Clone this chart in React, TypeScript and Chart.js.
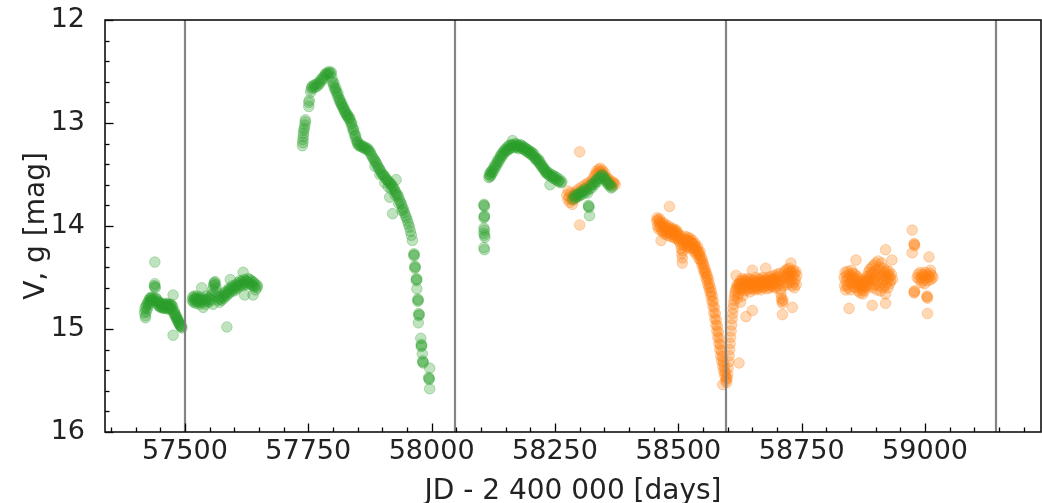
import React, { useEffect, useRef } from 'react';
import { Chart, registerables } from 'chart.js';

Chart.register(...registerables);

// ---- V band (green): [JD - 2400000, mag] ----
const vSeason1: [number, number][] = [
  [57418,14.84],[57419,14.80],[57420,14.87],[57420,14.89],[57421,14.78],[57422,14.83],[57423,14.76],[57424,14.80],[57425,14.74],
  [57426,14.77],[57427,14.72],[57428,14.75],[57429,14.70],[57430,14.73],[57431,14.70],[57432,14.72],[57433,14.69],
  [57434,14.72],[57436,14.70],[57438,14.58],[57439,14.59],[57439,14.56],[57440,14.60],[57439,14.35],[57441,14.70],
  [57442,14.73],[57443,14.71],[57444,14.75],[57445,14.73],[57446,14.77],[57447,14.74],[57448,14.78],[57449,14.75],
  [57450,14.79],[57451,14.76],[57452,14.78],[57453,14.75],[57454,14.79],[57455,14.77],[57456,14.80],[57457,14.76],
  [57458,14.79],[57459,14.77],[57460,14.80],[57461,14.76],[57462,14.79],[57463,14.75],[57464,14.78],[57465,14.76],
  [57466,14.80],[57467,14.77],[57468,14.81],[57469,14.76],[57470,14.79],[57471,14.76],[57472,14.80],[57473,14.77],
  [57474,14.81],[57475,14.78],[57476,14.67],[57476,15.06],[57477,14.84],[57478,14.82],[57479,14.86],[57480,14.85],
  [57481,14.88],[57482,14.87],[57483,14.90],[57484,14.89],[57485,14.92],[57486,14.91],[57487,14.94],[57488,14.93],
  [57489,14.96],[57490,14.95],[57491,14.97],[57492,14.98],[57493,14.97],[57494,14.99],
];

const vSeason2: [number, number][] = [
  [57515,14.72],[57516,14.69],[57517,14.74],[57518,14.71],[57519,14.68],[57520,14.73],[57521,14.70],[57522,14.75],
  [57523,14.71],[57524,14.68],[57525,14.73],[57526,14.70],[57527,14.74],[57528,14.71],[57529,14.76],[57530,14.72],
  [57531,14.69],[57532,14.74],[57533,14.71],[57534,14.60],[57535,14.72],[57537,14.79],[57538,14.74],[57540,14.71],
  [57541,14.76],[57543,14.72],[57544,14.68],[57546,14.73],[57547,14.70],[57549,14.74],[57550,14.71],[57552,14.68],
  [57553,14.72],[57555,14.66],[57556,14.62],[57557,14.76],[57558,14.58],[57559,14.56],[57560,14.55],[57561,14.54],
  [57562,14.57],[57563,14.60],[57564,14.64],[57566,14.68],[57567,14.72],[57569,14.70],[57570,14.74],[57572,14.71],
  [57573,14.68],[57575,14.72],[57576,14.69],[57578,14.66],[57579,14.70],[57581,14.67],[57582,14.64],[57584,14.68],
  [57585,14.98],[57585,14.65],[57587,14.62],[57588,14.66],[57590,14.63],[57591,14.60],[57592,14.52],[57593,14.64],
  [57594,14.61],[57596,14.58],[57597,14.62],[57599,14.59],[57600,14.63],[57602,14.60],[57603,14.57],[57605,14.61],
  [57606,14.58],[57608,14.55],[57609,14.59],[57611,14.56],[57612,14.53],[57614,14.57],[57615,14.54],[57617,14.58],
  [57618,14.45],[57619,14.55],[57620,14.52],[57621,14.67],[57622,14.56],[57623,14.53],[57625,14.57],[57626,14.54],
  [57628,14.51],[57629,14.55],[57631,14.52],[57632,14.56],[57634,14.53],[57635,14.57],[57637,14.54],[57638,14.67],
  [57638,14.58],[57640,14.55],[57641,14.59],[57643,14.62],[57644,14.57],[57646,14.60],[57647,14.58],
];

const vSeason3: [number, number][] = [
  [57738,13.22],[57739,13.19],[57739,13.16],[57740,13.13],[57740,13.10],[57741,13.07],[57742,13.05],[57743,13.02],
  [57744,12.99],[57744,12.97],[57751,12.84],[57751,12.80],[57752,12.78],[57755,12.70],[57756,12.67],[57757,12.65],
  [57759,12.64],[57761,12.66],[57763,12.63],[57765,12.65],[57767,12.62],[57769,12.64],[57771,12.61],[57773,12.62],
  [57775,12.58],[57777,12.59],[57779,12.56],[57781,12.57],[57783,12.54],[57785,12.52],[57787,12.53],[57789,12.51],
  [57791,12.52],[57793,12.50],[57795,12.52],[57797,12.51],[57798,12.56],[57799,12.60],[57801,12.63],[57802,12.61],
  [57803,12.66],[57805,12.68],[57806,12.66],[57807,12.70],[57809,12.73],[57810,12.71],[57811,12.75],[57813,12.78],
  [57814,12.77],[57815,12.80],[57817,12.82],[57818,12.81],[57819,12.84],[57821,12.86],[57822,12.85],[57823,12.88],
  [57825,12.90],[57826,12.89],[57827,12.92],[57829,12.93],[57830,12.92],[57831,12.95],[57833,12.96],[57834,12.95],
  [57835,12.98],[57837,13.01],[57838,13.00],[57839,13.04],[57841,13.07],[57842,13.06],[57843,13.10],[57845,13.13],
  [57846,13.12],[57847,13.16],[57849,13.19],[57850,13.18],[57851,13.21],[57853,13.22],[57855,13.21],[57857,13.23],
  [57859,13.22],[57861,13.24],[57863,13.23],[57865,13.25],[57867,13.24],[57869,13.26],[57871,13.25],[57873,13.27],
  [57875,13.28],[57877,13.30],[57879,13.32],[57881,13.34],[57883,13.35],[57885,13.37],[57885,13.42],[57887,13.38],
  [57889,13.40],[57891,13.42],[57893,13.44],[57895,13.45],[57895,13.50],[57897,13.47],[57899,13.49],[57901,13.50],
  [57903,13.51],[57905,13.52],[57905,13.58],[57907,13.54],[57909,13.55],[57911,13.56],[57912,13.62],[57913,13.57],
  [57915,13.58],[57915,13.72],[57917,13.59],[57918,13.64],[57919,13.60],[57921,13.62],[57921,13.88],[57923,13.63],
  [57925,13.65],[57926,13.70],[57927,13.67],[57928,13.55],[57929,13.69],[57931,13.70],[57933,13.72],[57933,13.78],
  [57935,13.75],[57937,13.77],[57939,13.79],[57940,13.85],[57941,13.82],[57943,13.84],[57945,13.87],[57947,13.90],
  [57949,13.92],[57951,13.95],[57953,13.98],[57955,14.01],[57957,14.05],[57959,14.09],[57961,14.14],
  [57964,14.27],[57964,14.29],[57965,14.28],[57966,14.39],[57966,14.41],[57967,14.40],[57969,14.51],[57969,14.53],
  [57970,14.52],[57970,14.61],[57972,14.71],[57972,14.73],[57973,14.72],[57974,14.85],[57974,14.87],[57975,14.86],
  [57973,14.94],[57978,15.09],[57979,15.15],[57979,15.17],[57980,15.16],[57981,15.24],[57982,15.31],[57983,15.33],
  [57982,15.32],[57996,15.38],[57994,15.47],[57995,15.49],[57995,15.48],[57996,15.58],
];

const vSeason4: [number, number][] = [
  [58106,13.79],[58107,13.81],[58106,13.80],[58107,13.90],[58106,13.92],[58107,13.91],[58106,14.02],[58107,14.04],
  [58106,14.07],[58107,14.09],[58108,14.11],[58106,14.21],[58107,14.23],
  [58116,13.53],[58117,13.50],[58118,13.52],[58119,13.48],[58120,13.51],[58121,13.47],[58122,13.49],[58124,13.45],
  [58125,13.47],[58127,13.42],[58128,13.44],[58130,13.40],[58131,13.42],[58133,13.37],[58134,13.39],[58136,13.35],
  [58137,13.37],[58139,13.32],[58140,13.34],[58142,13.30],[58143,13.32],[58145,13.28],[58146,13.30],[58148,13.26],
  [58149,13.28],[58151,13.25],[58152,13.27],[58154,13.23],[58155,13.26],[58157,13.22],[58158,13.25],[58160,13.21],
  [58161,13.24],[58163,13.22],[58164,13.17],[58165,13.21],[58167,13.24],[58168,13.22],[58170,13.20],[58171,13.23],
  [58173,13.21],[58174,13.24],[58176,13.22],[58177,13.25],[58179,13.23],[58180,13.21],[58182,13.24],[58183,13.22],
  [58185,13.25],[58186,13.23],[58188,13.26],[58189,13.24],[58191,13.27],[58192,13.25],[58194,13.28],[58195,13.26],
  [58197,13.29],[58198,13.27],[58200,13.30],[58201,13.28],[58203,13.31],[58204,13.29],[58206,13.32],[58207,13.30],
  [58209,13.33],[58210,13.35],[58212,13.34],[58213,13.36],[58215,13.37],[58216,13.35],[58218,13.39],[58219,13.37],
  [58221,13.40],[58222,13.42],[58224,13.41],[58225,13.43],[58227,13.45],[58228,13.44],[58230,13.46],[58231,13.48],
  [58233,13.47],[58234,13.49],[58236,13.50],[58237,13.48],[58239,13.51],[58240,13.60],[58242,13.52],[58243,13.50],
  [58245,13.53],[58246,13.51],[58248,13.54],[58250,13.52],[58252,13.55],[58254,13.53],[58256,13.56],[58258,13.57],
  [58260,13.55],[58262,13.58],[58264,13.57],
  [58286,13.74],[58288,13.71],[58290,13.73],[58292,13.70],[58294,13.72],[58296,13.69],[58298,13.71],[58300,13.68],
  [58302,13.70],[58304,13.67],[58306,13.69],[58308,13.66],[58310,13.64],[58312,13.67],[58314,13.65],[58316,13.68],
  [58318,13.80],[58319,13.82],[58318,13.81],[58320,13.90],[58320,13.64],[58322,13.61],[58324,13.63],[58326,13.60],
  [58328,13.58],[58330,13.60],[58332,13.57],[58334,13.55],[58336,13.57],[58338,13.54],[58340,13.52],[58342,13.54],
  [58344,13.51],[58346,13.50],[58348,13.52],[58350,13.54],[58352,13.56],[58354,13.55],[58356,13.58],[58358,13.60],
  [58360,13.59],[58362,13.61],[58364,13.63],[58366,13.62],
];

// ---- g band (orange): [JD - 2400000, mag] ----
const gSeason1: [number, number][] = [
  [58274,13.70],[58276,13.74],[58277,13.66],[58279,13.72],[58280,13.77],[58282,13.68],[58283,13.74],[58285,13.79],
  [58286,13.70],[58288,13.75],[58290,13.68],[58292,13.72],[58294,13.66],[58296,13.70],[58298,13.64],[58300,13.28],
  [58300,13.99],[58302,13.66],[58305,13.62],[58308,13.65],[58311,13.60],[58314,13.62],[58317,13.58],[58320,13.60],
  [58323,13.57],[58326,13.55],[58329,13.52],[58332,13.50],[58334,13.47],[58336,13.49],[58338,13.45],[58340,13.47],
  [58342,13.44],[58344,13.48],[58346,13.46],[58348,13.50],[58350,13.48],[58352,13.52],[58354,13.55],[58356,13.53],
  [58358,13.57],[58360,13.55],[58362,13.58],[58364,13.60],[58366,13.57],[58368,13.59],[58370,13.58],[58372,13.60],
];

const gSeason2: [number, number][] = [
  [58456,13.95],[58457,13.92],[58458,14.00],[58459,13.94],[58460,14.03],[58461,13.97],[58462,13.93],[58463,14.01],
  [58464,13.96],[58465,14.14],[58466,14.04],[58467,13.98],[58468,14.06],[58469,14.00],[58470,13.97],[58471,14.05],
  [58472,14.01],[58473,14.08],[58474,14.03],[58475,13.99],[58476,14.06],[58477,14.02],[58478,14.09],[58479,14.04],
  [58480,14.00],[58481,14.07],[58482,13.81],[58483,14.03],[58484,14.10],[58485,14.05],[58486,14.02],[58487,14.08],
  [58488,14.04],[58489,14.11],[58490,14.06],[58491,14.03],[58492,14.09],[58493,14.05],[58494,14.12],[58495,14.07],
  [58496,14.04],[58497,14.10],[58498,14.06],[58499,14.13],[58500,14.08],[58501,14.11],[58502,14.15],[58503,14.09],
  [58504,14.13],[58505,14.18],[58506,14.22],[58507,14.27],[58508,14.31],[58508,14.36],[58509,14.24],[58510,14.16],
  [58511,14.12],[58512,14.19],[58513,14.14],[58514,14.10],[58515,14.17],[58516,14.13],[58517,14.20],[58518,14.15],
  [58519,14.11],[58520,14.18],[58521,14.14],[58522,14.21],[58523,14.16],[58524,14.12],[58525,14.19],[58526,14.15],
  [58527,14.22],[58528,14.17],[58529,14.14],[58530,14.21],[58531,14.18],[58532,14.25],[58533,14.20],[58534,14.17],
  [58535,14.24],[58536,14.21],[58537,14.28],[58538,14.23],[58539,14.20],[58540,14.27],[58541,14.25],[58542,14.32],
  [58543,14.28],[58544,14.25],[58545,14.33],[58546,14.30],[58547,14.37],[58548,14.32],[58549,14.35],[58550,14.41],
  [58551,14.37],[58552,14.44],[58553,14.40],[58554,14.46],[58555,14.43],[58556,14.50],[58557,14.46],[58558,14.53],
  [58559,14.49],[58560,14.57],[58561,14.52],[58562,14.60],[58563,14.56],[58564,14.64],[58565,14.60],[58566,14.68],
  [58567,14.64],[58568,14.73],[58569,14.68],[58570,14.78],[58571,14.73],[58572,14.84],[58573,14.79],[58574,14.90],
  [58575,14.85],[58576,14.96],[58577,14.91],[58578,15.02],[58579,14.97],[58580,15.08],[58581,15.03],[58582,15.14],
  [58583,15.09],[58584,15.20],[58585,15.15],[58586,15.26],[58587,15.21],[58588,15.31],[58589,15.27],[58590,15.36],
  [58590,15.54],[58591,15.32],[58592,15.41],[58593,15.37],[58594,15.45],[58595,15.42],[58596,15.50],[58597,15.47],
  [58598,15.52],[58599,15.48],[58600,15.44],[58601,15.38],[58602,15.32],[58603,15.26],[58604,15.20],[58605,15.14],
  [58606,15.08],[58607,15.02],[58608,14.96],[58609,14.90],[58610,14.85],[58611,14.80],[58612,14.76],[58613,14.72],
  [58614,14.68],[58615,14.65],[58616,14.62],[58617,14.48],[58618,14.60],[58619,14.57],[58620,14.70],[58621,14.59],
  [58622,14.66],[58623,15.33],[58623,14.56],
  [58624,14.56],[58625,14.60],[58626,14.74],[58626,14.53],[58627,14.62],[58628,14.55],[58629,14.58],[58630,14.68],
  [58630,14.51],[58631,14.61],[58632,14.56],[58633,14.53],[58634,14.63],[58635,14.57],[58636,14.52],[58637,14.88],
  [58638,14.59],[58639,14.54],[58640,14.62],[58641,14.57],[58642,14.51],[58643,14.60],[58644,14.55],[58645,14.64],
  [58646,14.52],[58647,14.58],[58648,14.54],[58649,14.61],[58650,14.43],[58650,14.82],[58651,14.56],[58652,14.60],
  [58653,14.53],[58654,14.58],[58655,14.62],[58656,14.55],[58657,14.50],[58658,14.59],[58659,14.54],[58660,14.61],
  [58661,14.56],[58662,14.52],[58663,14.60],[58664,14.55],[58665,14.58],[58666,14.51],[58667,14.62],[58668,14.56],
  [58669,14.53],[58670,14.59],[58671,14.55],[58672,14.50],[58673,14.60],[58674,14.54],[58675,14.57],[58676,14.52],
  [58677,14.41],[58678,14.58],[58679,14.53],[58680,14.61],[58681,14.55],[58682,14.50],[58683,14.57],[58684,14.53],
  [58685,14.60],[58686,14.52],[58687,14.56],[58688,14.49],[58689,14.58],[58690,14.54],[58691,14.51],[58692,14.59],
  [58693,14.53],[58694,14.48],[58695,14.56],[58696,14.52],[58697,14.60],[58698,14.50],[58699,14.55],[58700,14.47],
  [58701,14.58],[58702,14.52],[58703,14.49],[58704,14.56],[58705,14.46],[58706,14.53],[58707,14.62],[58708,14.66],
  [58709,14.70],[58710,14.73],[58711,14.75],[58711,14.86],[58712,14.72],[58713,14.58],[58714,14.50],[58715,14.45],
  [58716,14.55],[58717,14.43],[58718,14.51],[58719,14.47],[58720,14.57],[58721,14.42],[58722,14.50],[58723,14.46],
  [58724,14.55],[58725,14.41],[58726,14.49],[58727,14.44],[58728,14.36],[58729,14.53],[58730,14.45],[58731,14.79],
  [58731,14.58],[58732,14.48],[58733,14.43],[58734,14.55],[58735,14.60],[58736,14.46],[58737,14.52],[58738,14.44],
  [58739,14.57],[58740,14.48],
];

const gSeason3: [number, number][] = [
  [58836,14.50],[58837,14.58],[58838,14.45],[58839,14.62],[58840,14.53],[58841,14.48],[58842,14.57],[58843,14.44],
  [58844,14.60],[58845,14.51],[58846,14.80],[58847,14.47],[58848,14.55],[58849,14.62],[58850,14.49],[58851,14.43],
  [58852,14.56],[58853,14.52],[58854,14.46],[58855,14.59],[58856,14.50],[58857,14.54],[58858,14.47],[58859,14.60],
  [58860,14.33],[58861,14.52],[58862,14.57],[58863,14.49],[58864,14.63],[58865,14.55],[58866,14.51],[58867,14.60],
  [58868,14.57],[58869,14.65],[58870,14.53],[58871,14.58],[58872,14.62],[58873,14.56],[58874,14.66],[58875,14.60],
  [58876,14.54],[58877,14.63],[58878,14.58],[58879,14.52],[58880,14.60],[58881,14.55],[58882,14.49],[58883,14.57],
  [58884,14.52],[58885,14.45],[58886,14.54],[58887,14.48],[58888,14.42],[58889,14.51],[58890,14.58],[58891,14.46],
  [58892,14.40],[58893,14.77],[58893,14.53],[58894,14.60],[58895,14.47],[58896,14.38],[58897,14.52],[58898,14.44],
  [58899,14.57],[58900,14.36],[58901,14.49],[58902,14.62],[58903,14.42],[58904,14.54],[58905,14.34],[58906,14.47],
  [58907,14.58],[58908,14.40],[58909,14.51],[58910,14.63],[58911,14.44],[58912,14.36],[58913,14.55],[58914,14.48],
  [58915,14.60],[58916,14.41],[58917,14.52],[58918,14.45],[58919,14.58],[58920,14.23],[58920,14.75],[58920,14.66],
  [58921,14.49],[58922,14.43],[58923,14.55],[58924,14.47],[58925,14.60],[58926,14.50],[58927,14.44],[58928,14.56],
  [58929,14.49],[58930,14.53],[58932,14.47],[58933,14.33],[58934,14.52],
];

const gSeason4: [number, number][] = [
  [58974,14.04],[58978,14.17],[58979,14.19],[58978,14.18],[58974,14.26],[58978,14.64],[58979,14.63],[58978,14.65],
  [58984,14.50],[58986,14.47],[58988,14.52],[58990,14.45],[58992,14.50],[58993,14.55],[58994,14.47],[58996,14.53],
  [58998,14.48],[58999,14.56],[59000,14.45],[59002,14.51],[59004,14.47],[59006,14.53],[59008,14.49],[59010,14.46],
  [59011,14.43],[59012,14.52],[59014,14.48],[59016,14.50],[59004,14.68],[59005,14.70],[59004,14.69],[59005,14.85],
  [59008,14.30],
];

// Vertical reference epochs
const dividerJD = [57500, 58048, 58596, 59144];

// Axis ranges and tick steps
const xRange = [57338, 59235];
const yRange = [12, 16];
const xMajorTicks = [57500, 57750, 58000, 58250, 58500, 58750, 59000];
const yMajorTicks = [12, 13, 14, 15, 16];
const xMinorStep = 50;
const yMinorStep = 0.2;

const xTitle = 'JD - 2 400 000 [days]';
const yTitle = 'V, g [mag]';

const toPoints = (arr: [number, number][]) => arr.map(([x, y]) => ({ x, y }));

const framePlugin = {
  id: 'frame',
  afterDatasetsDraw(chart: any) {
    const { ctx, chartArea, scales } = chart;
    const { left, right, top, bottom } = chartArea;
    const xs = scales.x;
    const ys = scales.y;
    ctx.save();
    ctx.strokeStyle = 'rgba(125,125,125,0.95)';
    ctx.lineWidth = 2.2;
    for (const jd of dividerJD) {
      const px = Math.round(xs.getPixelForValue(jd));
      ctx.beginPath();
      ctx.moveTo(px, top);
      ctx.lineTo(px, bottom);
      ctx.stroke();
    }
    ctx.strokeStyle = '#000';
    ctx.lineWidth = 1.3;
    const x0 = Math.ceil(xRange[0] / xMinorStep) * xMinorStep;
    for (let v = x0; v <= xRange[1]; v += xMinorStep) {
      const major = xMajorTicks.includes(v);
      const len = major ? 8.5 : 4.5;
      const px = Math.round(xs.getPixelForValue(v)) + 0.5;
      ctx.beginPath();
      ctx.moveTo(px, bottom);
      ctx.lineTo(px, bottom - len);
      ctx.stroke();
    }
    const nY = Math.round((yRange[1] - yRange[0]) / yMinorStep);
    for (let i = 0; i <= nY; i++) {
      const v = yRange[0] + i * yMinorStep;
      const major = yMajorTicks.some((t) => Math.abs(t - v) < 1e-6);
      const len = major ? 8.5 : 4.5;
      const py = Math.round(ys.getPixelForValue(v)) + 0.5;
      ctx.beginPath();
      ctx.moveTo(left, py);
      ctx.lineTo(left + len, py);
      ctx.stroke();
    }
    ctx.lineWidth = 1.6;
    ctx.strokeStyle = '#111';
    ctx.strokeRect(left, top, right - left, bottom - top);
    ctx.restore();
  },
};

export default function App() {
  const canvasRef = useRef<HTMLCanvasElement | null>(null);

  useEffect(() => {
    if (!canvasRef.current) return;
    const green = [...vSeason1, ...vSeason2, ...vSeason3, ...vSeason4];
    const orange = [...gSeason1, ...gSeason2, ...gSeason3, ...gSeason4];
    const font = 'DejaVu Sans';
    const chart = new Chart(canvasRef.current, {
      type: 'scatter',
      data: {
        datasets: [
          {
            label: 'V',
            data: toPoints(green),
            backgroundColor: 'rgba(44,160,44,0.3)',
            borderColor: 'rgba(44,160,44,0.3)',
            borderWidth: 1,
            pointRadius: 5.3,
            pointHoverRadius: 5.3,
          },
          {
            label: 'g',
            data: toPoints(orange),
            backgroundColor: 'rgba(255,127,14,0.3)',
            borderColor: 'rgba(255,127,14,0.3)',
            borderWidth: 1,
            pointRadius: 5.3,
            pointHoverRadius: 5.3,
          },
        ],
      },
      options: {
        responsive: false,
        animation: false,
        events: [],
        layout: { autoPadding: false, padding: { top: 20, right: 1, left: 0, bottom: 0 } },
        plugins: { legend: { display: false }, tooltip: { enabled: false } },
        scales: {
          x: {
            type: 'linear',
            min: xRange[0],
            max: xRange[1],
            grid: { display: false },
            border: { display: false },
            afterBuildTicks: (s: any) => {
              s.ticks = xMajorTicks.map((v) => ({ value: v }));
            },
            afterFit: (s: any) => {
              s.height = 71;
              s.paddingLeft = 0;
              s.paddingRight = 0;
            },
            ticks: {
              padding: -4,
              color: '#222',
              font: { family: font, size: 27 },
              maxRotation: 0,
              autoSkip: false,
              callback: (v: any) => String(v),
            },
            title: {
              display: true,
              text: xTitle,
              color: '#222',
              font: { family: font, size: 28, lineHeight: 0.8 },
              padding: { top: 0, bottom: 0 },
            },
          },
          y: {
            type: 'linear',
            min: yRange[0],
            max: yRange[1],
            reverse: true,
            grid: { display: false },
            border: { display: false },
            afterBuildTicks: (s: any) => {
              s.ticks = yMajorTicks.map((v) => ({ value: v }));
            },
            afterFit: (s: any) => {
              s.width = 105;
              s.paddingTop = 0;
              s.paddingBottom = 0;
            },
            ticks: {
              padding: 12,
              color: '#222',
              font: { family: font, size: 27 },
              autoSkip: false,
              callback: (v: any) => String(v),
            },
            title: {
              display: true,
              text: yTitle,
              color: '#222',
              font: { family: font, size: 28, lineHeight: 1 },
              padding: { top: 23, bottom: 0 },
            },
          },
        },
      },
      plugins: [framePlugin],
    } as any);
    return () => chart.destroy();
  }, []);

  return (
    <div style={{ position: 'absolute', left: 0, top: 0, width: 1042, height: 503, background: '#fff' }}>
      <canvas ref={canvasRef} width={1042} height={503} style={{ display: 'block' }} />
    </div>
  );
}
